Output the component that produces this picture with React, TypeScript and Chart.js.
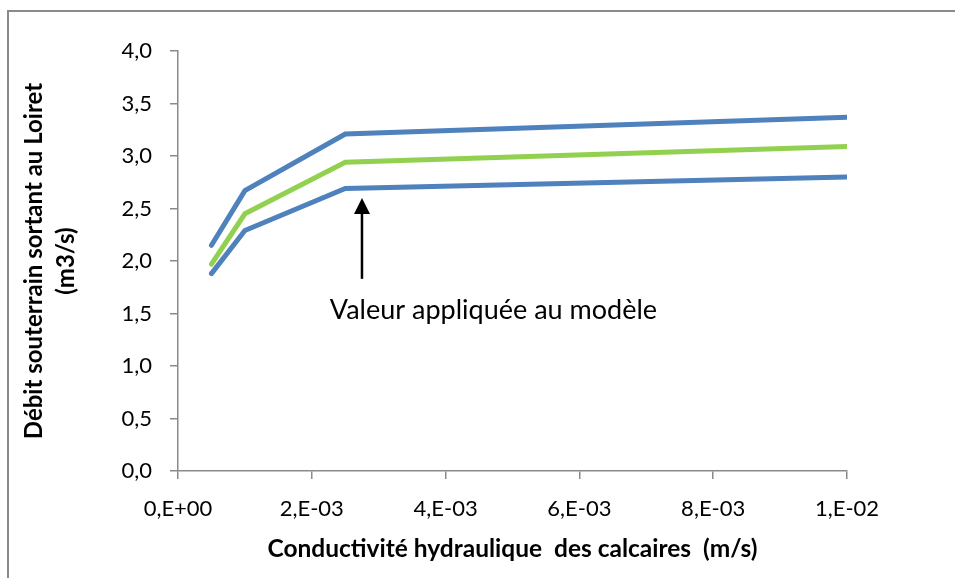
import React, { useEffect, useRef } from "react";
import { Chart, registerables } from "chart.js";

Chart.register(...registerables);

const conductivity = [0.0005, 0.001, 0.0025, 0.01];
const upperSeries = [2.15, 2.67, 3.21, 3.37];
const modelSeries = [1.97, 2.45, 2.94, 3.09];
const lowerSeries = [1.88, 2.29, 2.69, 2.8];
const xTickValues = [0, 0.002, 0.004, 0.006, 0.008, 0.01];
const xTickLabels = ["0,E+00", "2,E-03", "4,E-03", "6,E-03", "8,E-03", "1,E-02"];
const yTickLabels = ["0,0", "0,5", "1,0", "1,5", "2,0", "2,5", "3,0", "3,5", "4,0"];
const annotationText = "Valeur appliquée au modèle";
const annotationPos = { x: 0.00227, y: 1.53 };
const arrowTail = { x: 0.00275, y: 1.83 };
const arrowTip = { x: 0.00275, y: 2.6 };

const FONT = "Lato, 'Open Sans', sans-serif";
const BLUE = "#4f81bd";
const GREEN = "#92d050";

const pts = (ys: number[]) => conductivity.map((x, i) => ({ x, y: ys[i] }));

const framePlugin = {
  id: "frame",
  beforeDraw(chart: any) {
    const ctx = chart.ctx;
    ctx.save();
    ctx.fillStyle = "#ffffff";
    ctx.fillRect(0, 0, chart.width, chart.height);
    ctx.strokeStyle = "#8a8a8a";
    ctx.lineWidth = 2;
    ctx.strokeRect(8, 11, chart.width + 10, chart.height + 10);
    ctx.restore();
  },
};

const annotationPlugin = {
  id: "annot",
  afterDatasetsDraw(chart: any) {
    const ctx = chart.ctx;
    const xs = chart.scales.x;
    const ys = chart.scales.y;
    ctx.save();
    ctx.fillStyle = "#000";
    ctx.font = `27px ${FONT}`;
    ctx.textAlign = "left";
    ctx.textBaseline = "middle";
    ctx.fillText(annotationText, xs.getPixelForValue(annotationPos.x), ys.getPixelForValue(annotationPos.y));
    const tx = xs.getPixelForValue(arrowTail.x);
    const ty = ys.getPixelForValue(arrowTail.y);
    const hx = xs.getPixelForValue(arrowTip.x);
    const hy = ys.getPixelForValue(arrowTip.y);
    const headLen = 16;
    ctx.strokeStyle = "#000";
    ctx.lineWidth = 2.5;
    ctx.beginPath();
    ctx.moveTo(tx, ty);
    ctx.lineTo(hx, hy + headLen - 2);
    ctx.stroke();
    ctx.beginPath();
    ctx.moveTo(hx, hy);
    ctx.lineTo(hx - 8, hy + headLen);
    ctx.lineTo(hx + 8, hy + headLen);
    ctx.closePath();
    ctx.fill();
    ctx.restore();
  },
};

export default function App() {
  const ref = useRef<HTMLCanvasElement | null>(null);
  useEffect(() => {
    if (!ref.current) return;
    const lineDs = (data: any, color: string) => ({
      data,
      borderColor: color,
      backgroundColor: color,
      borderWidth: 5,
      borderCapStyle: "round" as const,
      borderJoinStyle: "miter" as const,
      pointRadius: 0,
      tension: 0,
      fill: false,
    });
    const chart = new Chart(ref.current, {
      type: "line",
      data: {
        datasets: [
          lineDs(pts(upperSeries), BLUE),
          lineDs(pts(modelSeries), GREEN),
          lineDs(pts(lowerSeries), BLUE),
        ],
      },
      options: {
        responsive: false,
        animation: false,
        layout: { padding: { left: 10, right: 108, top: 51, bottom: 0 } },
        plugins: { legend: { display: false }, tooltip: { enabled: false } },
        scales: {
          x: {
            type: "linear",
            min: 0,
            max: 0.01,
            afterBuildTicks: (s: any) => {
              s.ticks = xTickValues.map((v) => ({ value: v }));
            },
            afterFit: (s: any) => {
              s.height = 107;
            },
            ticks: {
              color: "#000",
              font: { family: FONT, size: 22 },
              padding: 17,
              maxRotation: 0,
              callback: (_v: any, i: number) => xTickLabels[i],
            },
            grid: { drawOnChartArea: false, drawTicks: true, tickLength: 8, color: "#8a8a8a", lineWidth: 1.5 },
            border: { color: "#8a8a8a", width: 1.5 },
            title: {
              display: true,
              text: "Conductivité hydraulique  des calcaires  (m/s)",
              color: "#000",
              font: { family: FONT, size: 24.5, weight: "bold" },
              padding: { top: 10, bottom: 14 },
            },
          },
          y: {
            min: 0,
            max: 4,
            afterBuildTicks: (s: any) => {
              s.ticks = yTickLabels.map((_l, i) => ({ value: i * 0.5 }));
            },
            afterFit: (s: any) => {
              s.width = 168;
            },
            ticks: {
              color: "#000",
              font: { family: FONT, size: 22 },
              padding: 18,
              callback: (_v: any, i: number) => yTickLabels[i],
            },
            grid: { drawOnChartArea: false, drawTicks: true, tickLength: 8, color: "#8a8a8a", lineWidth: 1.5 },
            border: { color: "#8a8a8a", width: 1.5 },
            title: {
              display: true,
              text: ["Débit souterrain sortant au Loiret", "(m3/s)"],
              color: "#000",
              font: { family: FONT, size: 24, weight: "bold", lineHeight: 1.35 },
              padding: { top: 8, bottom: 0 },
            },
          },
        },
      },
      plugins: [framePlugin, annotationPlugin],
    });
    return () => chart.destroy();
  }, []);
  return (
    <div style={{ position: "absolute", left: 0, top: 0, width: 955, height: 578 }}>
      <canvas ref={ref} width={955} height={578} />
    </div>
  );
}
